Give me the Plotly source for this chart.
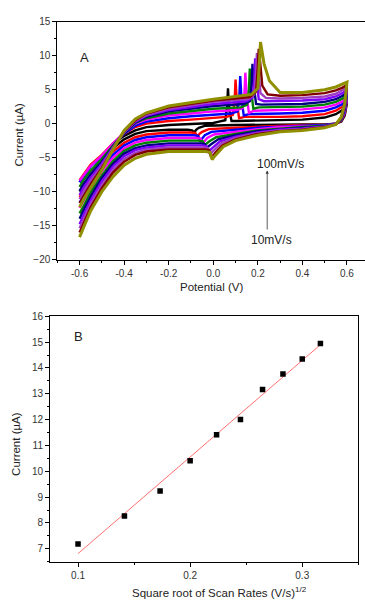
import numpy as np
import plotly.graph_objects as go

FONT = "Liberation Sans, Arial, sans-serif"

# ---------------- Panel A data: cyclic voltammograms (10 ... 100 mV/s) ----------------
SCAN_LABELS = ["10 mV/s", "20 mV/s", "30 mV/s", "40 mV/s", "50 mV/s",
               "60 mV/s", "70 mV/s", "80 mV/s", "90 mV/s", "100 mV/s"]
CURVE_COLORS = ["#000000", "#ff0000", "#0000ff", "#ff00ff", "#008000",
                "#000080", "#8000ff", "#a040c0", "#800000", "#8f8f00"]

# forward scan, left part
X_UL = [-0.6, -0.58, -0.55, -0.5, -0.45, -0.4, -0.35, -0.3, -0.2, -0.1, 0.0]
Y_UL = [
    [-8.6, -7.5, -6.2, -4.7, -3.0, -1.8, -1.0, -0.5, -0.2, -0.1, 0.1],
    [-8.3, -7.3, -6.0, -4.6, -2.9, -1.5, -0.5, 0.0, 0.4, 0.6, 0.8],
    [-8.6, -7.6, -6.3, -4.8, -3.0, -1.5, -0.3, 0.3, 0.8, 1.1, 1.3],
    [-8.4, -7.5, -6.2, -4.7, -2.9, -1.3, 0.0, 0.6, 1.2, 1.5, 1.8],
    [-9.3, -8.2, -6.9, -5.2, -3.2, -1.4, 0.1, 0.8, 1.5, 1.9, 2.2],
    [-9.9, -8.8, -7.4, -5.6, -3.4, -1.4, 0.2, 1.0, 1.8, 2.2, 2.6],
    [-10.5, -9.3, -7.9, -5.9, -3.5, -1.3, 0.3, 1.2, 2.0, 2.5, 2.9],
    [-11.1, -9.9, -8.4, -6.2, -3.6, -1.2, 0.4, 1.3, 2.2, 2.7, 3.2],
    [-11.7, -10.5, -8.9, -6.5, -3.7, -1.1, 0.5, 1.5, 2.4, 2.9, 3.4],
    [-12.3, -11.0, -9.4, -6.8, -3.8, -1.0, 0.7, 1.6, 2.6, 3.1, 3.6],
]
# anodic peak region
PA_X = [
    [0.026, 0.054, 0.062, 0.066, 0.072, 0.082, 0.106],
    [0.060, 0.088, 0.096, 0.100, 0.106, 0.116, 0.140],
    [0.081, 0.109, 0.117, 0.121, 0.127, 0.137, 0.161],
    [0.104, 0.132, 0.140, 0.144, 0.150, 0.160, 0.184],
    [0.124, 0.152, 0.160, 0.164, 0.170, 0.180, 0.204],
    [0.136, 0.164, 0.172, 0.176, 0.182, 0.192, 0.216],
    [0.148, 0.176, 0.184, 0.188, 0.194, 0.204, 0.228],
    [0.156, 0.184, 0.192, 0.196, 0.202, 0.212, 0.236],
    [0.164, 0.192, 0.200, 0.204, 0.210, 0.220, 0.244],
    [0.172, 0.200, 0.208, 0.212, 0.218, 0.228, 0.252],
]
PA_Y = [
    [0.3, 0.5, 2.5, 5.2, 2.0, 0.4, 0.4],
    [1.0, 1.3, 3.5, 6.5, 3.0, 0.8, 1.0],
    [1.5, 1.8, 4.0, 7.0, 3.5, 1.2, 1.4],
    [2.0, 2.3, 4.5, 7.5, 4.0, 1.6, 1.9],
    [2.4, 2.8, 5.0, 8.1, 4.8, 2.2, 2.4],
    [2.9, 3.3, 5.6, 8.8, 5.6, 2.9, 2.8],
    [3.3, 3.8, 6.4, 9.6, 6.8, 3.6, 3.3],
    [3.6, 4.3, 7.3, 10.4, 8.0, 4.5, 3.8],
    [3.9, 4.7, 8.3, 11.0, 9.2, 5.6, 4.3],
    [4.3, 5.2, 9.5, 12.0, 10.8, 8.8, 6.3],
]
# forward scan, right part
X_UR = [0.3, 0.4, 0.5, 0.55, 0.58, 0.6]
Y_UR = [
    [0.5, 0.6, 0.9, 1.4, 2.0, 3.0],
    [1.0, 1.1, 1.4, 1.9, 2.5, 3.4],
    [1.5, 1.6, 1.9, 2.4, 2.9, 3.7],
    [2.0, 2.1, 2.4, 2.8, 3.3, 4.0],
    [2.4, 2.5, 2.8, 3.2, 3.7, 4.3],
    [2.8, 2.9, 3.2, 3.6, 4.1, 4.6],
    [3.3, 3.4, 3.6, 4.0, 4.5, 5.0],
    [3.7, 3.8, 4.0, 4.4, 4.9, 5.3],
    [4.1, 4.2, 4.5, 4.9, 5.3, 5.7],
    [4.6, 4.6, 5.0, 5.4, 5.8, 6.1],
]
# reverse scan, right part
X_LR = [0.6, 0.59, 0.575, 0.55, 0.5, 0.4, 0.3, 0.2, 0.1]
Y_LR = [
    [3.0, 1.2, 0.3, 0.0, -0.1, -0.1, -0.1, -0.1, -0.2],
    [3.4, 1.4, 0.4, 0.0, -0.2, -0.2, -0.3, -0.4, -0.6],
    [3.7, 1.6, 0.5, 0.0, -0.2, -0.3, -0.4, -0.6, -0.9],
    [4.0, 1.8, 0.6, 0.0, -0.3, -0.4, -0.5, -0.8, -1.2],
    [4.3, 2.0, 0.6, 0.0, -0.3, -0.5, -0.7, -1.0, -1.5],
    [4.6, 2.2, 0.7, 0.0, -0.4, -0.6, -0.8, -1.1, -1.7],
    [5.0, 2.4, 0.8, 0.0, -0.4, -0.7, -0.9, -1.3, -1.9],
    [5.3, 2.6, 0.9, -0.1, -0.5, -0.8, -1.0, -1.4, -2.1],
    [5.7, 2.8, 0.9, -0.1, -0.5, -0.9, -1.1, -1.5, -2.3],
    [6.1, 3.0, 1.0, -0.1, -0.6, -1.0, -1.2, -1.7, -2.5],
]
# cathodic peak region
PC_X = [
    [-0.035, -0.065, -0.077, -0.085, -0.095, -0.115],
    [-0.020, -0.050, -0.062, -0.070, -0.080, -0.100],
    [-0.008, -0.038, -0.050, -0.058, -0.068, -0.088],
    [0.003, -0.027, -0.039, -0.047, -0.057, -0.077],
    [0.013, -0.017, -0.029, -0.037, -0.047, -0.067],
    [0.022, -0.008, -0.020, -0.028, -0.038, -0.058],
    [0.030, 0.000, -0.012, -0.020, -0.030, -0.050],
    [0.036, 0.006, -0.006, -0.014, -0.024, -0.044],
    [0.041, 0.011, -0.001, -0.009, -0.019, -0.039],
    [0.045, 0.015, 0.003, -0.005, -0.015, -0.035],
]
PC_Y = [
    [-0.3, -0.6, -0.9, -1.3, -1.0, -0.9],
    [-0.8, -1.2, -1.5, -1.9, -1.4, -1.3],
    [-1.2, -1.7, -2.1, -2.5, -1.8, -1.7],
    [-1.6, -2.1, -2.5, -2.9, -2.2, -2.1],
    [-2.0, -2.6, -2.9, -3.3, -2.6, -2.5],
    [-2.3, -3.0, -3.3, -3.7, -3.0, -2.9],
    [-2.6, -3.4, -3.8, -4.2, -3.3, -3.2],
    [-2.9, -3.8, -4.2, -4.6, -3.6, -3.5],
    [-3.2, -4.2, -4.6, -5.0, -3.9, -3.8],
    [-3.4, -4.4, -4.9, -5.3, -4.2, -4.1],
]
# reverse scan, left part
X_LL = [-0.2, -0.3, -0.35, -0.4, -0.45, -0.5, -0.55, -0.58, -0.6]
Y_LL = [
    [-0.9, -1.1, -1.5, -2.3, -3.6, -5.4, -7.6, -9.0, -10.0],
    [-1.3, -1.6, -2.0, -2.8, -4.1, -5.9, -8.2, -9.7, -10.8],
    [-1.7, -2.0, -2.4, -3.2, -4.6, -6.5, -8.9, -10.5, -11.6],
    [-2.1, -2.4, -2.8, -3.6, -5.0, -7.0, -9.5, -11.2, -12.4],
    [-2.5, -2.8, -3.2, -4.0, -5.5, -7.6, -10.1, -12.0, -13.2],
    [-2.9, -3.2, -3.6, -4.4, -5.9, -8.0, -10.7, -12.6, -14.0],
    [-3.2, -3.5, -3.9, -4.8, -6.3, -8.5, -11.3, -13.3, -14.8],
    [-3.5, -3.8, -4.3, -5.2, -6.8, -9.0, -11.8, -13.9, -15.4],
    [-3.8, -4.1, -4.6, -5.6, -7.2, -9.5, -12.3, -14.5, -16.0],
    [-4.1, -4.5, -5.1, -6.1, -7.8, -10.0, -12.8, -15.1, -16.7],
]

# ---------------- Panel B data ----------------
SQRT_SCAN_RATE = [0.1, 0.1414, 0.1732, 0.2, 0.2236, 0.2449, 0.2646, 0.2828, 0.3, 0.3162]
PEAK_CURRENT = [7.19, 8.27, 9.24, 10.41, 11.41, 12.0, 13.17, 13.77, 14.35, 14.95]

fig = go.Figure()

for k in range(len(SCAN_LABELS)):
    xs = X_UL + PA_X[k] + X_UR + X_LR + PC_X[k] + X_LL
    ys = Y_UL[k] + PA_Y[k] + Y_UR[k] + Y_LR[k] + PC_Y[k] + Y_LL[k]
    fig.add_trace(go.Scatter(
        x=xs, y=ys, mode="lines", name=SCAN_LABELS[k],
        line=dict(color=CURVE_COLORS[k], width=3.0 if k == 9 else 2.4),
        xaxis="x", yaxis="y", showlegend=False, hoverinfo="skip"))

slope, intercept = np.polyfit(SQRT_SCAN_RATE, PEAK_CURRENT, 1)
fit_x = [SQRT_SCAN_RATE[0], SQRT_SCAN_RATE[-1]]
fit_y = [slope * v + intercept for v in fit_x]
fig.add_trace(go.Scatter(x=fit_x, y=fit_y, mode="lines",
                         line=dict(color="#ff7070", width=1),
                         xaxis="x2", yaxis="y2", showlegend=False))
fig.add_trace(go.Scatter(x=SQRT_SCAN_RATE, y=PEAK_CURRENT, mode="markers",
                         marker=dict(symbol="square", size=5.5, color="#000000"),
                         xaxis="x2", yaxis="y2", showlegend=False))

W, H = 365, 606
axis_common = dict(showgrid=False, zeroline=False, showline=True, linecolor="#000000",
                   linewidth=1, ticks="outside", ticklen=4, tickwidth=1, tickcolor="#000000",
                   tickfont=dict(family=FONT, size=10, color="#333333"))

fig.update_layout(
    width=W, height=H, margin=dict(l=0, r=0, t=0, b=0),
    paper_bgcolor="white", plot_bgcolor="white",
    font=dict(family=FONT, color="#222222"),
    xaxis=dict(domain=[57.3 / W, 1.0], range=[-0.7, 0.681], anchor="y",
               tickvals=[-0.6, -0.4, -0.2, 0.0, 0.2, 0.4, 0.6],
               ticktext=["-0.6", "-0.4", "-0.2", "0.0", "0.2", "0.4", "0.6"],
               minor=dict(dtick=0.1, tick0=0, ticks="outside", ticklen=2, tickcolor="#000000"),
               mirror=True, **axis_common),
    yaxis=dict(domain=[(H - 258.3) / H, (H - 16) / H], range=[-20, 15], anchor="x",
               tickvals=[-20, -15, -10, -5, 0, 5, 10, 15],
               minor=dict(dtick=2.5, tick0=0, ticks="outside", ticklen=2, tickcolor="#000000"),
               mirror=False, **axis_common),
    xaxis2=dict(domain=[50 / W, 358.3 / W], range=[0.075, 0.35], anchor="y2",
                tickvals=[0.1, 0.2, 0.3],
                minor=dict(dtick=0.05, tick0=0, ticks="outside", ticklen=2, tickcolor="#000000"),
                mirror=True, **axis_common),
    yaxis2=dict(domain=[(H - 566) / H, (H - 316) / H], range=[6.5, 16], anchor="x2",
                tickvals=[7, 8, 9, 10, 11, 12, 13, 14, 15, 16],
                minor=dict(dtick=0.5, tick0=0, ticks="outside", ticklen=2, tickcolor="#000000"),
                mirror=True, **axis_common),
)

def px_x(p):
    return p / W

def px_y(p):
    return (H - p) / H

title_font = dict(family=FONT, size=11.5, color="#222222")
annotations = [
    dict(text="Potential (V)", x=px_x(212), y=px_y(286), xref="paper", yref="paper",
         showarrow=False, font=title_font, xanchor="center", yanchor="middle"),
    dict(text="Current (µA)", x=px_x(19), y=px_y(131), xref="paper", yref="paper",
         showarrow=False, font=title_font, textangle=-90, xanchor="center", yanchor="middle"),
    dict(text="A", x=px_x(78), y=px_y(43), xref="paper", yref="paper",
         showarrow=False, font=dict(family=FONT, size=13, color="#222222")),
    dict(text="100mV/s", x=0.300, y=-5.9, xref="x", yref="y", showarrow=False,
         font=dict(family=FONT, size=12, color="#222222")),
    dict(text="10mV/s", x=0.262, y=-17.1, xref="x", yref="y", showarrow=False,
         font=dict(family=FONT, size=12, color="#222222")),
    dict(text="", x=0.242, y=-6.9, ax=0.242, ay=-15.8, xref="x", yref="y",
         axref="x", ayref="y", showarrow=True, arrowhead=2, arrowsize=0.8,
         arrowwidth=0.8, arrowcolor="#333333"),
    dict(text="Square root of Scan Rates (V/s)<sup>1/2</sup>", x=px_x(219), y=px_y(597),
         xref="paper", yref="paper", showarrow=False, font=title_font,
         xanchor="center", yanchor="middle"),
    dict(text="Current (µA)", x=px_x(16), y=px_y(446), xref="paper", yref="paper",
         showarrow=False, font=title_font, textangle=-90, xanchor="center", yanchor="middle"),
    dict(text="B", x=px_x(72), y=px_y(337), xref="paper", yref="paper",
         showarrow=False, font=dict(family=FONT, size=13, color="#222222")),
]
fig.update_layout(annotations=annotations)

fig.write_html("out.html", config={"displayModeBar": False},
               post_script="document.body.style.margin='0';document.body.style.overflow='hidden';")
